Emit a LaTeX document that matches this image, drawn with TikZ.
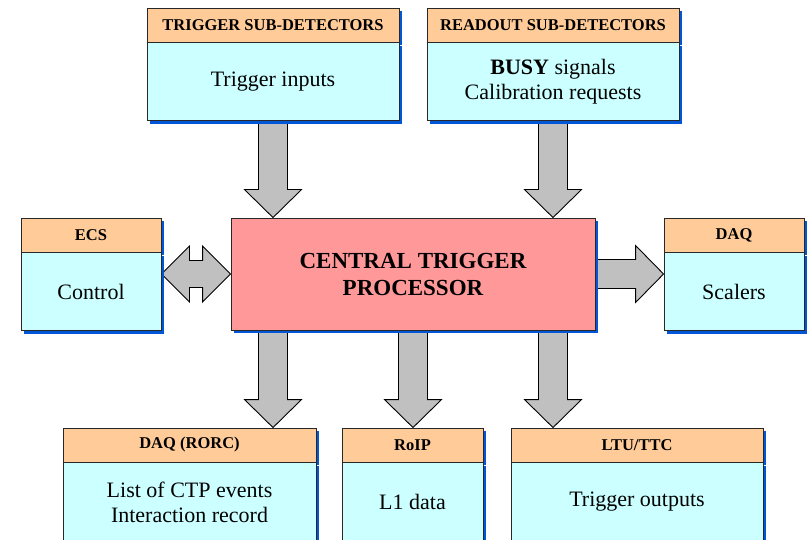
\documentclass[tikz,border=0pt]{standalone}
\usepackage{fontspec}
\setmainfont{Liberation Serif}
\usetikzlibrary{positioning, calc, shadows, backgrounds}
\definecolor{HeadOrange}{RGB}{255,204,153}
\definecolor{BodyCyan}{RGB}{204,255,255}
\definecolor{CtpPink}{RGB}{255,153,153}
\definecolor{ArrowGray}{RGB}{192,192,192}
\definecolor{ShadowBlue}{RGB}{0,86,214}
\definecolor{EdgeDark}{RGB}{40,40,40}

% fat block arrow from #1 (tail) to #2 (tip)
\newcommand{\fatarrow}[2]{%
  \coordinate (hb) at ($(#2)!28pt!(#1)$);
  \draw[fatarr] ($(#1)!14.5pt!90:(#2)$) -- ($(hb)!14.5pt!90:(#2)$)
    -- ($(hb)!28.5pt!90:(#2)$) -- (#2) -- ($(hb)!28.5pt!-90:(#2)$)
    -- ($(hb)!14.5pt!-90:(#2)$) -- ($(#1)!14.5pt!-90:(#2)$) -- cycle;
}
% same, with a head at both ends
\newcommand{\fatdouble}[2]{%
  \coordinate (ha) at ($(#1)!28pt!(#2)$);
  \coordinate (hb) at ($(#2)!28pt!(#1)$);
  \draw[fatarr] (#1) -- ($(ha)!28pt!90:(#2)$) -- ($(ha)!13.5pt!90:(#2)$)
    -- ($(hb)!13.5pt!90:(#2)$) -- ($(hb)!28pt!90:(#2)$) -- (#2)
    -- ($(hb)!28pt!-90:(#2)$) -- ($(hb)!13.5pt!-90:(#2)$)
    -- ($(ha)!13.5pt!-90:(#2)$) -- ($(ha)!28pt!-90:(#2)$) -- cycle;
}

\begin{document}
\begin{tikzpicture}[x=1pt,y=-1pt,
    shad/.style={drop shadow={shadow xshift=3pt,shadow yshift=-3pt,
                 fill=ShadowBlue,opacity=1}},
    hdr/.style={draw=EdgeDark,fill=HeadOrange,line width=0.9pt,shad,inner sep=0pt,
                minimum height=34pt,font=\fontsize{16.5}{19}\selectfont\bfseries},
    body/.style={draw=EdgeDark,fill=BodyCyan,line width=0.9pt,shad,inner sep=0pt,
                 minimum height=78pt,align=center,
                 font=\fontsize{22}{25}\selectfont},
    core/.style={draw=EdgeDark,fill=CtpPink,line width=0.9pt,shad,inner sep=0pt,
                 minimum width=364pt,minimum height=112pt,align=center,
                 font=\fontsize{23}{27}\selectfont\bfseries},
    fatarr/.style={draw=black,fill=ArrowGray,line width=0.9pt,line join=miter}
  ]
  \useasboundingbox (0,0) rectangle (811,540);

  % top row
  \node[hdr,minimum width=252pt] (trighdr) at (273,25) {TRIGGER SUB-DETECTORS};
  \node[body,minimum width=252pt,below=0pt of trighdr] (trigbody) {Trigger inputs};
  \node[hdr,minimum width=252pt] (readhdr) at (553,25) {READOUT SUB-DETECTORS};
  \node[body,minimum width=252pt,below=0pt of readhdr] (readbody)
    {\textbf{BUSY} signals\\Calibration requests};

  % middle row
  \node[hdr,minimum width=140pt] (ecshdr) at (91,235) {ECS};
  \node[body,minimum width=140pt,below=0pt of ecshdr] (ecsbody) {Control};
  \node[core] (ctp) at (413,274) {CENTRAL TRIGGER\\PROCESSOR};
  \node[hdr,minimum width=140pt] (daqhdr) at (734,235) {DAQ};
  \node[body,minimum width=140pt,below=0pt of daqhdr] (daqbody) {Scalers};

  % bottom row
  \node[hdr,minimum width=253pt] (rorchdr) at (189.5,445) {DAQ (RORC)};
  \node[body,minimum width=253pt,below=0pt of rorchdr] (rorcbody)
    {List of CTP events\\Interaction record};
  \node[hdr,minimum width=141pt] (roiphdr) at (412.5,445) {RoIP};
  \node[body,minimum width=141pt,below=0pt of roiphdr] (roipbody) {L1 data};
  \node[hdr,minimum width=252pt] (ltuhdr) at (637,445) {LTU/TTC};
  \node[body,minimum width=252pt,below=0pt of ltuhdr] (ltubody) {Trigger outputs};

  % block arrows
  \coordinate (t1) at (trigbody.south |- ctp.north);
  \coordinate (t2) at (readbody.south |- ctp.north);
  \coordinate (s1) at (trigbody.south |- ctp.south);
  \coordinate (e1) at (trigbody.south |- rorchdr.north);
  \coordinate (e2) at (ctp.south |- roiphdr.north);
  \coordinate (s3) at (readbody.south |- ctp.south);
  \coordinate (e3) at (readbody.south |- ltuhdr.north);
  \coordinate (ecsend) at (ctp.west -| ecsbody.east);
  \coordinate (daqend) at (ctp.east -| daqbody.west);
  \begin{pgfonlayer}{background}
    \fatarrow{trigbody.south}{t1}
    \fatarrow{readbody.south}{t2}
    \fatarrow{s1}{e1}
    \fatarrow{ctp.south}{e2}
    \fatarrow{s3}{e3}
    \fatarrow{ctp.east}{daqend}
    \fatdouble{ecsend}{ctp.west}
  \end{pgfonlayer}
\end{tikzpicture}
\end{document}
